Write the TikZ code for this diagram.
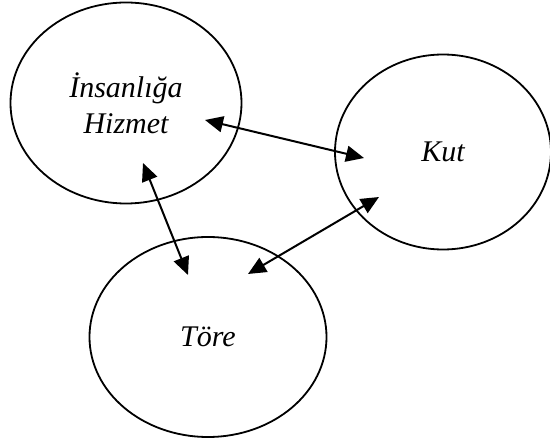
\documentclass[tikz,border=0pt]{standalone}
\usepackage{fontspec}
\setmainfont{Liberation Serif}
\usetikzlibrary{shapes.geometric, arrows.meta, positioning, calc}

\tikzset{
  topic/.style={draw, ellipse, line width=1.8pt, inner sep=0pt, align=center,
    font=\fontsize{30}{36}\selectfont\itshape},
  link/.style={{Triangle[length=18pt,width=16pt]}-{Triangle[length=18pt,width=16pt]},
    line width=2pt},
}

\begin{document}
\begin{tikzpicture}[x=1pt, y=-1pt]
        \useasboundingbox (0,0) rectangle (550,441);

        % Draw the three ellipses
        \node[topic, minimum width=231pt, minimum height=201pt] (ins) at (126,103) {İnsanlığa\\Hizmet};
        \node[topic, minimum width=216pt, minimum height=195pt] (kut) at (443,152) {Kut};
        \node[topic, minimum width=237pt, minimum height=200pt] (tore) at (208,337) {Töre};

        % Arrow ends inside the ellipses
        \coordinate (insKut) at ($(ins.center)+(79,17)$);
        \coordinate (insTore) at ($(ins.center)+(17,60)$);
        \coordinate (kutIns) at ($(kut.center)+(-79,6)$);
        \coordinate (kutTore) at ($(kut.center)+(-64,45)$);
        \coordinate (toreIns) at ($(tore.center)+(-20,-62)$);
        \coordinate (toreKut) at ($(tore.center)+(40,-63)$);

        % Draw double arrows between the ellipses
        \draw[link] (insKut) -- (kutIns);
        \draw[link] (insTore) -- (toreIns);
        \draw[link] (kutTore) -- (toreKut);
    \end{tikzpicture}
\end{document}
